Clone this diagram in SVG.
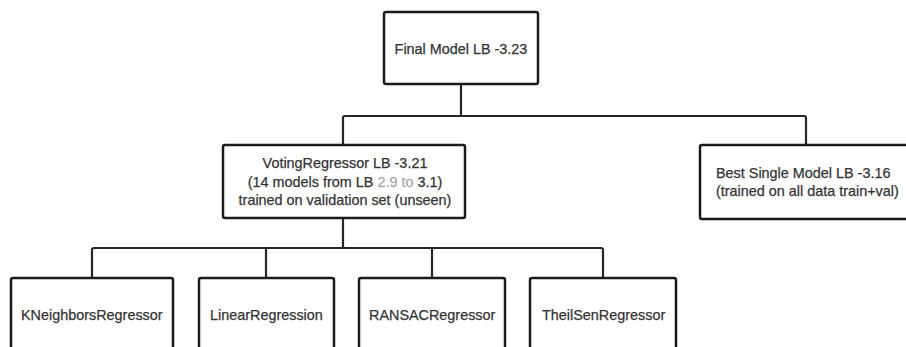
<svg xmlns="http://www.w3.org/2000/svg" width="906" height="347" viewBox="0 0 906 347">
  <style>
    .box { fill: #ffffff; stroke: #1a1a1a; stroke-width: 2.5; stroke-linejoin: round; }
    .wire { fill: none; stroke: #262626; stroke-width: 2.2; stroke-linejoin: round; stroke-linecap: round; }
    .lbl { font-family: "Liberation Sans", Arial, sans-serif; font-size: 14.4px; fill: #333333; stroke: #333333; stroke-width: 0.25; }
    .mid { text-anchor: middle; }
    .dim { fill: #a8a8a8; stroke: #a8a8a8; }
  </style>
  <rect width="906" height="347" fill="#ffffff"/>

  <!-- tree connectors -->
  <g id="connectors">
    <path class="wire" d="M461 84 V116"/>
    <path class="wire" d="M343 145 V118 Q343 116 345 116 H804 Q806 116 806 118 V145"/>
    <path class="wire" d="M343 218 V248"/>
    <path class="wire" d="M92 278 V250 Q92 248 94 248 H601 Q603 248 603 250 V278"/>
    <path class="wire" d="M266 248 V278"/>
    <path class="wire" d="M432 248 V278"/>
  </g>

  <g id="final-model">
    <rect class="box" x="384" y="12" width="154" height="72" rx="2"/>
    <text class="lbl mid" x="461" y="54">Final Model LB -3.23</text>
  </g>

  <g id="voting-regressor">
    <rect class="box" x="223" y="145" width="242" height="73" rx="2"/>
    <text class="lbl mid" x="345" y="168">VotingRegressor LB -3.21</text>
    <text class="lbl mid" x="345" y="187">(14 models from LB <tspan class="dim">2.9 to</tspan> 3.1)</text>
    <text class="lbl mid" x="345" y="205">trained on validation set (unseen)</text>
  </g>

  <g id="best-single-model">
    <rect class="box" x="700" y="145" width="215" height="74" rx="2"/>
    <text class="lbl" x="716" y="178">Best Single Model LB -3.16</text>
    <text class="lbl" x="716" y="196">(trained on all data train+val)</text>
  </g>

  <g id="kneighbors">
    <rect class="box" x="11" y="278" width="162" height="80" rx="2"/>
    <text class="lbl" x="21" y="320">KNeighborsRegressor</text>
  </g>

  <g id="linear-regression">
    <rect class="box" x="199" y="278" width="135" height="80" rx="2"/>
    <text class="lbl" x="210" y="320">LinearRegression</text>
  </g>

  <g id="ransac">
    <rect class="box" x="359" y="278" width="146" height="80" rx="2"/>
    <text class="lbl" x="369" y="320">RANSACRegressor</text>
  </g>

  <g id="theilsen">
    <rect class="box" x="530" y="278" width="146" height="80" rx="2"/>
    <text class="lbl" x="542" y="320">TheilSenRegressor</text>
  </g>
</svg>
